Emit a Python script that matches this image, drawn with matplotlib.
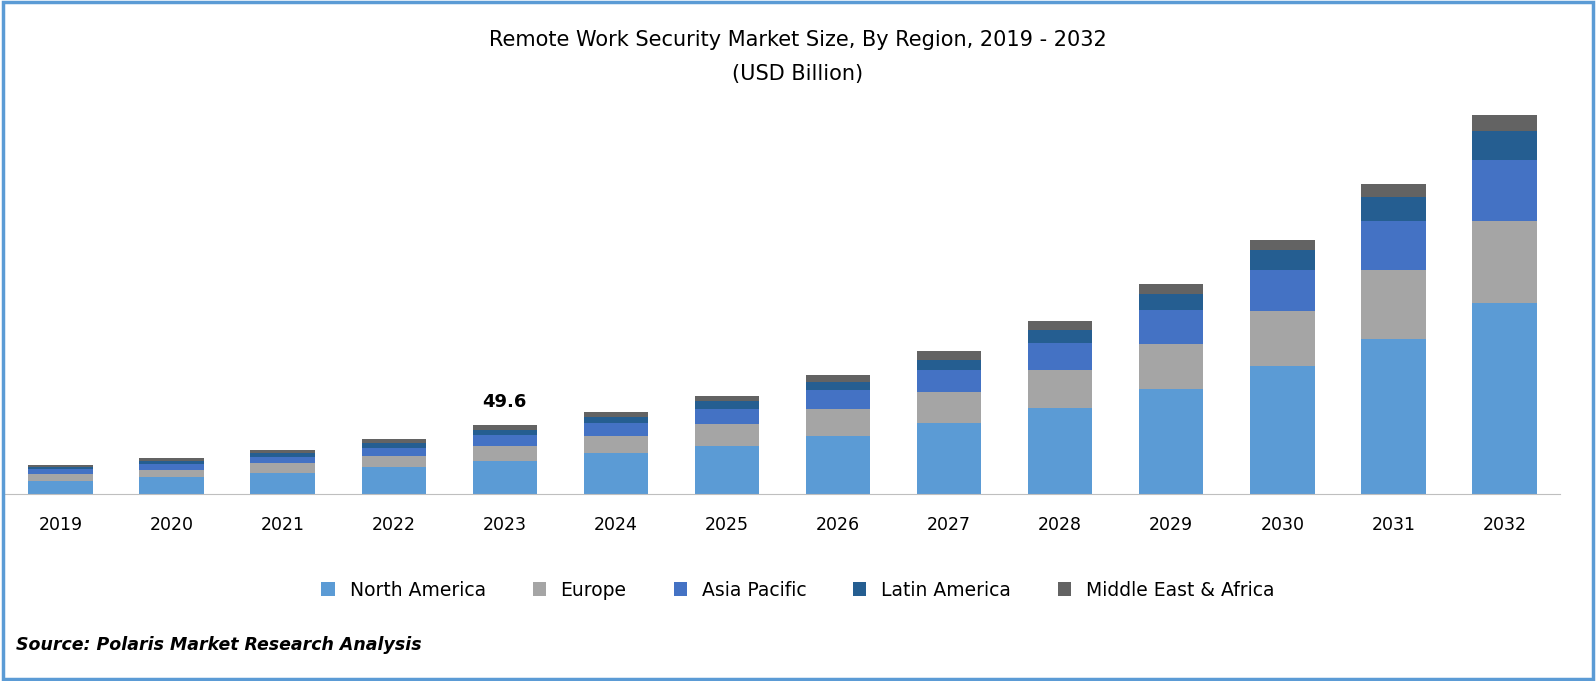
import matplotlib.pyplot as plt
from matplotlib.patches import Rectangle

years = [str(y) for y in range(2019, 2033)]
north_america = [9.3,12.2,15.1,19.4,23.7,29.5,34.5,41.7,51.0,61.8,75.5,92.0,111.4,137.3]
europe        = [5.0,5.0,7.2,7.9,10.8,12.2,15.8,19.4,22.3,27.3,32.4,39.5,49.6,59.0]
asia_pacific  = [3.6,4.3,4.3,5.8,7.9,9.3,10.8,13.7,15.8,19.4,24.4,29.5,35.2,43.9]
latin_america = [1.4,2.2,2.9,3.6,3.6,4.3,5.8,5.8,7.2,9.3,11.5,14.4,17.3,20.9]
mea           = [1.4,2.2,2.2,2.9,3.6,3.6,3.6,5.0,6.5,6.5,7.2,7.2,9.3,11.5]
series = [("North America", north_america, "#5b9bd5"),
          ("Europe", europe, "#a5a5a5"),
          ("Asia Pacific", asia_pacific, "#4472c4"),
          ("Latin America", latin_america, "#255e91"),
          ("Middle East & Africa", mea, "#636363")]

fig = plt.figure(figsize=(15.96, 6.81), dpi=100)
fig.patches.append(Rectangle((0.002, 0.003), 0.996, 0.994, transform=fig.transFigure,
                             fill=False, edgecolor="#5b9bd5", linewidth=2.5))
ax = fig.add_axes([5/1596, 1-494/681, 1555/1596, 394/681])
x = list(range(len(years)))
bottom = [0]*len(years)
for name, vals, c in series:
    ax.bar(x, vals, 0.58, bottom=bottom, color=c, label=name)
    bottom = [b+v for b, v in zip(bottom, vals)]
ax.set_xlim(-0.5, 13.5)
ax.set_ylim(0, 283.3)
ax.set_yticks([])
for s in ["top", "right", "left"]:
    ax.spines[s].set_visible(False)
ax.spines["bottom"].set_color("#bfbfbf")
ax.set_xticks(x)
ax.set_xticklabels(years, fontsize=12.5)
ax.tick_params(axis="x", length=0, pad=16)
ax.text(4, bottom[4]+10, "49.6", ha="center", va="bottom", fontsize=13, fontweight="bold")
fig.text(0.5, 1-40/681, "Remote Work Security Market Size, By Region, 2019 - 2032", ha="center", va="center", fontsize=15)
fig.text(0.5, 1-74/681, "(USD Billion)", ha="center", va="center", fontsize=15)
fig.legend(loc="center", bbox_to_anchor=(0.5, 1-590/681), ncol=5, frameon=False, fontsize=13.5,
           handlelength=0.7, handleheight=0.7, columnspacing=2.5)
fig.text(16/1596, 1-645/681, "Source: Polaris Market Research Analysis", ha="left", va="center",
         fontsize=12.5, fontweight="bold", style="italic")
fig.savefig("out.png", dpi=100)
